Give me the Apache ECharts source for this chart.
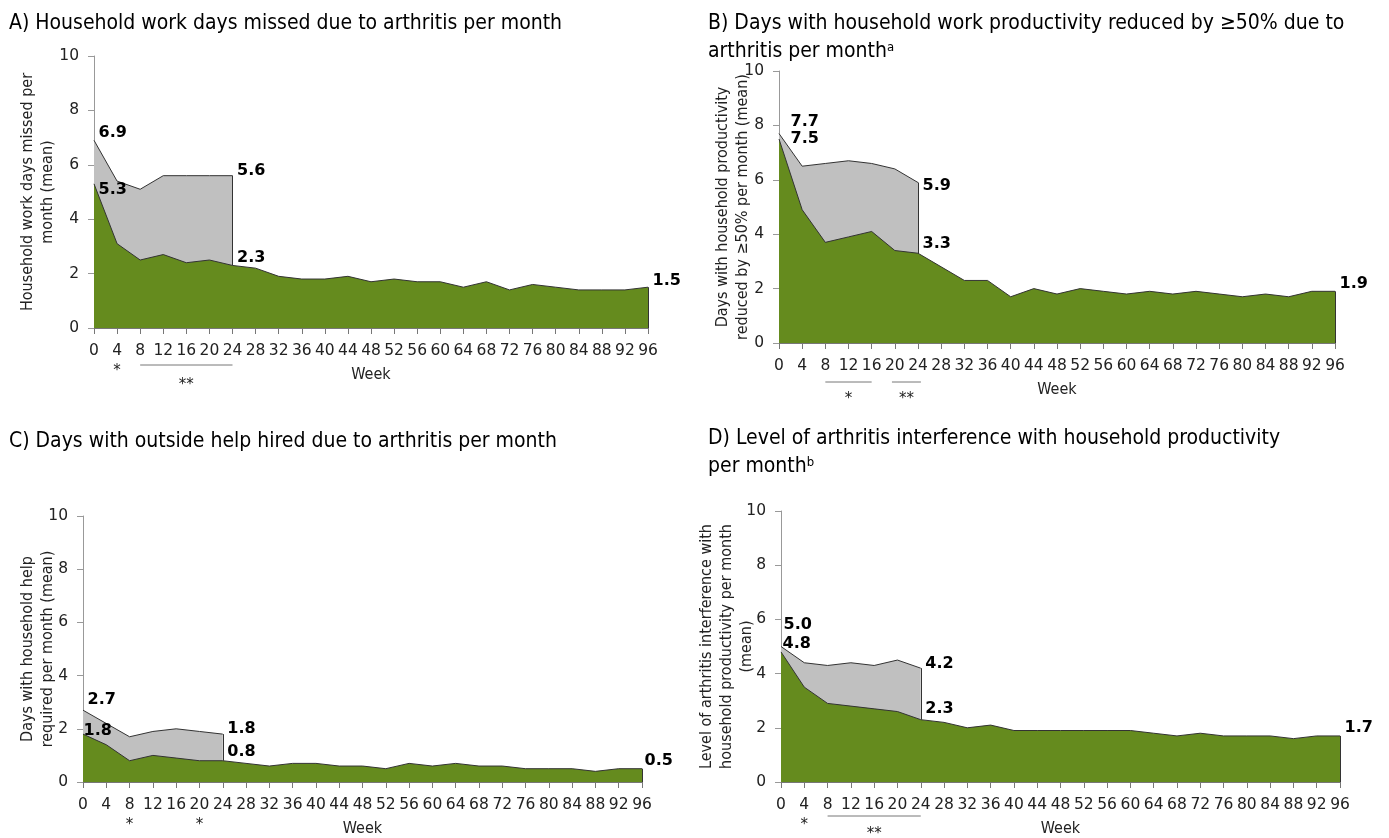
<!DOCTYPE html>
<html>
<head>
<meta charset="utf-8">
<script src="https://cdn.jsdelivr.net/npm/echarts@6/dist/echarts.min.js"></script>
<style>html,body{margin:0;padding:0;background:#fff}#c{width:1389px;height:838px}</style>
</head>
<body>
<div id="c"></div>
<script>
// ---- data ----
const weeks = [0,4,8,12,16,20,24,28,32,36,40,44,48,52,56,60,64,68,72,76,80,84,88,92,96];
const weeksShort = [0,4,8,12,16,20,24];
const yTicks = [0,2,4,6,8,10];

const aGreen = [5.3,3.1,2.5,2.7,2.4,2.5,2.3,2.2,1.9,1.8,1.8,1.9,1.7,1.8,1.7,1.7,1.5,1.7,1.4,1.6,1.5,1.4,1.4,1.4,1.5];
const aGray  = [6.9,5.4,5.1,5.6,5.6,5.6,5.6];
const bGreen = [7.5,4.9,3.7,3.9,4.1,3.4,3.3,2.8,2.3,2.3,1.7,2.0,1.8,2.0,1.9,1.8,1.9,1.8,1.9,1.8,1.7,1.8,1.7,1.9,1.9];
const bGray  = [7.7,6.5,6.6,6.7,6.6,6.4,5.9];
const cGreen = [1.8,1.4,0.8,1.0,0.9,0.8,0.8,0.7,0.6,0.7,0.7,0.6,0.6,0.5,0.7,0.6,0.7,0.6,0.6,0.5,0.5,0.5,0.4,0.5,0.5];
const cGray  = [2.7,2.2,1.7,1.9,2.0,1.9,1.8];
const dGreen = [4.8,3.5,2.9,2.8,2.7,2.6,2.3,2.2,2.0,2.1,1.9,1.9,1.9,1.9,1.9,1.9,1.8,1.7,1.8,1.7,1.7,1.7,1.6,1.7,1.7];
const dGray  = [5.0,4.4,4.3,4.4,4.3,4.5,4.2];

const titles = [
  'A) Household work days missed due to arthritis per month',
  'B) Days with household work productivity reduced by \u226550% due to\narthritis per month{sup|a}',
  'C) Days with outside help hired due to arthritis per month',
  'D) Level of arthritis interference with household productivity\nper month{sup|b}'
];
const yNames = [
  'Household work days missed per\nmonth (mean)',
  'Days with household productivity\nreduced by \u226550% per month (mean)',
  'Days with household help\nrequired per month (mean)',
  'Level of arthritis interference with\nhousehold productivity per month\n(mean)'
];
const xName = 'Week';

// significance annotations (in week units)
const sigMarks = [
  [{type:'text',at:4,t:'*'},{type:'line',from:8,to:24},{type:'text',at:16,t:'**',row:2}],
  [{type:'line',from:8,to:16},{type:'text',at:12,t:'*',row:2},{type:'line',from:19.5,to:24.5},{type:'text',at:22,t:'**',row:2}],
  [{type:'text',at:8,t:'*'},{type:'text',at:20,t:'*'}],
  [{type:'text',at:4,t:'*'},{type:'line',from:8,to:24},{type:'text',at:16,t:'**',row:2}]
];

// ---- layout / style ----
const FONT = '"DejaVu Sans Condensed", "DejaVu Sans", sans-serif';
const FONT2 = '"DejaVu Sans", sans-serif';
const GREEN = '#658B1E', GRAY = '#C0C0C0', EDGE = '#333';
const grids = [
  {left:94, top:56, width:554, height:272},
  {left:779, top:71, width:556, height:272},
  {left:83, top:516, width:559, height:272},
  {left:781, top:511, width:559, height:272}
];
const titlePos = [{left:9,top:10},{left:708,top:10},{left:9,top:428},{left:708,top:425}];
const yNameGap = [36, 26, 25, 24];
const sigOffsets = {line:[37,39,0,34], row1:[43,43,43,43], row2:[57,56,0,52]};

// label offsets
const labelOff = [
  {g0:[0,-7], n0:[0,6], g6:[0,-5], n6:[0,-8], nl:[0,-6]},
  {g0:[7,-12], n0:[7,0], g6:[0,3], n6:[0,-9], nl:[0,-7]},
  {g0:[0,-10], n0:[-4,-3], g6:[0,-5], n6:[0,-9], nl:[-2,-8]},
  {g0:[-2,-22], n0:[-3,-8], g6:[0,-4], n6:[0,-11], nl:[0,-8]}
];

const panels = [[aGreen,aGray],[bGreen,bGray],[cGreen,cGray],[dGreen,dGray]];

const labelStyle = (off)=>({show:true, position:'right', distance:4, offset:off, fontFamily:FONT2, fontSize:16, fontWeight:'bold', color:'#000',
  formatter:(p)=>p.value[1].toFixed(1)});

const option = {
  animation:false,
  backgroundColor:'#fff',
  title: titles.map((t,i)=>({
    text:t, left:titlePos[i].left, top:titlePos[i].top, padding:0,
    textStyle:{fontFamily:FONT, fontSize:21, fontWeight:'normal', color:'#000', lineHeight:28,
      rich:{sup:{fontFamily:FONT, fontSize:13, color:'#000', lineHeight:28, padding:[0,0,8,0]}}}
  })),
  grid: grids,
  xAxis: grids.map((g,i)=>({
    type:'value', gridIndex:i, min:0, max:96, interval:4,
    name:xName, nameLocation:'middle', nameGap:39, nameMoveOverlap:false,
    nameTextStyle:{fontFamily:FONT, fontSize:16, color:'#222'},
    axisLine:{show:true, lineStyle:{color:'#777'}},
    axisTick:{show:true, inside:false, length:6, lineStyle:{color:'#777'}},
    axisLabel:{fontFamily:FONT2, fontSize:15.5, color:'#222', margin:15},
    splitLine:{show:false}
  })),
  yAxis: grids.map((g,i)=>({
    type:'value', gridIndex:i, min:0, max:10, interval:2,
    name:yNames[i], nameLocation:'middle', nameGap:yNameGap[i], nameRotate:90, nameMoveOverlap:false,
    nameTextStyle:{fontFamily:FONT, fontSize:16, color:'#222', lineHeight:20},
    axisLine:{show:true, lineStyle:{color:'#999'}},
    axisTick:{show:true, inside:false, length:6, lineStyle:{color:'#999'}},
    axisLabel:{fontFamily:FONT2, fontSize:15.5, color:'#222', margin:15,
      formatter:(v)=>yTicks.includes(v)?String(v):''},
    splitLine:{show:false}
  })),
  series: []
};

panels.forEach(([green,gray],i)=>{
  const lo = labelOff[i];
  const lastShort = weeksShort.length-1;
  const grayData = weeksShort.map((w,k)=>{
    const item = {value:[w, gray[k]]};
    if (k===0) item.label = labelStyle(lo.g0);
    if (k===lastShort) item.label = labelStyle(lo.g6);
    return item;
  });
  const greenData = weeks.map((w,k)=>{
    const item = {value:[w, green[k]]};
    if (k===0) item.label = labelStyle(lo.n0);
    if (k===lastShort) item.label = labelStyle(lo.n6);
    if (k===weeks.length-1) item.label = labelStyle(lo.nl);
    return item;
  });
  option.series.push({
    type:'line', xAxisIndex:i, yAxisIndex:i, data:grayData, z:2,
    symbol:'circle', symbolSize:1, itemStyle:{color:'rgba(0,0,0,0)'},
    lineStyle:{color:EDGE, width:1}, areaStyle:{color:GRAY, opacity:1},
    emphasis:{disabled:true}, silent:true,
    markLine:{silent:true, symbol:'none', label:{show:false}, lineStyle:{color:EDGE, width:1, type:'solid'},
      data:[[{coord:[weeksShort[lastShort], gray[lastShort]]},{coord:[weeksShort[lastShort], green[lastShort]]}]]}
  });
  option.series.push({
    type:'line', xAxisIndex:i, yAxisIndex:i, data:greenData, z:3,
    symbol:'circle', symbolSize:1, itemStyle:{color:'rgba(0,0,0,0)'},
    lineStyle:{color:EDGE, width:1}, areaStyle:{color:GREEN, opacity:1},
    emphasis:{disabled:true}, silent:true,
    markLine:{silent:true, symbol:'none', label:{show:false}, lineStyle:{color:EDGE, width:1, type:'solid'},
      data:[[{coord:[weeks[weeks.length-1], green[green.length-1]]},{coord:[weeks[weeks.length-1], 0]}]]}
  });
});

const chart = echarts.init(document.getElementById('c'), null, {renderer:'canvas'});
chart.setOption(option);

// significance annotations positioned via axis scales
const graphics = [];
sigMarks.forEach((marks,i)=>{
  marks.forEach(m=>{
    if (m.type==='line'){
      const p1 = chart.convertToPixel({gridIndex:i}, [m.from, 0]);
      const p2 = chart.convertToPixel({gridIndex:i}, [m.to, 0]);
      const y = p1[1] + sigOffsets.line[i];
      graphics.push({type:'line', shape:{x1:p1[0], y1:y, x2:p2[0], y2:y}, style:{stroke:'#777', lineWidth:1}, silent:true});
    } else {
      const p = chart.convertToPixel({gridIndex:i}, [m.at, 0]);
      const y = p[1] + (m.row===2 ? sigOffsets.row2[i] : sigOffsets.row1[i]);
      graphics.push({type:'text', x:p[0], y:y, style:{text:m.t, fontFamily:FONT2, fontSize:15, fill:'#222', align:'center', verticalAlign:'middle'}, silent:true});
    }
  });
});
chart.setOption({graphic:graphics});
</script>
</body>
</html>
